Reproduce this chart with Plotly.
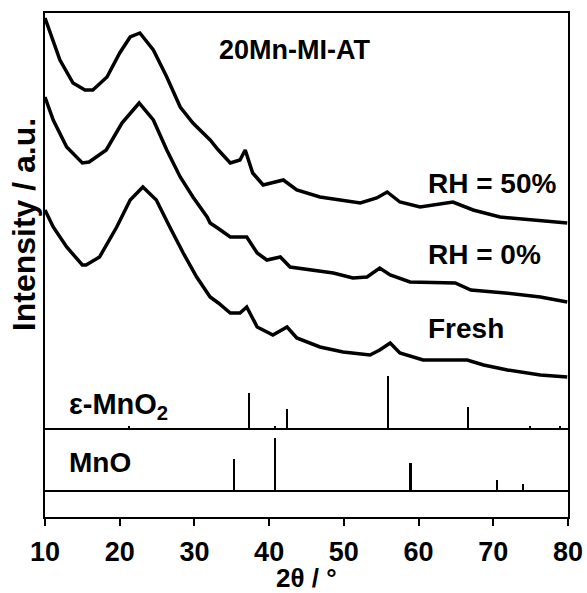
import plotly.graph_objects as go
from plotly.subplots import make_subplots

# ---- data ----
rh50_x = [10.0, 12.0, 13.75, 15.35, 16.4, 18.3, 20.0, 21.4, 22.7, 24.5, 26.3, 28.1, 29.8, 31.7, 32.1, 33.2,
          34.8, 36.1, 36.8, 37.8, 39.2, 41.9, 43.7, 46.8, 49.9, 52.2, 54.4, 55.8, 57.5, 60.2, 64.6, 67.3,
          70.9, 74.9, 79.9]
rh50_y = [410, 368, 345, 338, 338, 351, 375, 391, 395, 378, 351, 321, 305, 291, 288, 278,
          265, 268, 278, 255, 243, 248, 238, 231, 228, 225, 230, 236, 226, 221, 226, 218,
          211, 208, 205]

rh0_x = [10.0, 11.1, 12.9, 15.0, 15.9, 18.2, 20.3, 21.7, 22.6, 24.5, 26.3, 28.1, 29.8, 31.7, 32.1, 33.1,
         34.8, 37.0, 38.4, 39.7, 41.5, 42.8, 45.5, 48.6, 51.2, 53.1, 54.8, 56.2, 58.85, 64.9, 67.0,
         71.6, 76.3, 79.9]
rh0_y = [331, 308, 281, 265, 266, 278, 305, 318, 325, 308, 278, 251, 231, 211, 205, 200,
         191, 191, 175, 168, 171, 161, 158, 155, 150, 151, 160, 153, 146, 145, 138,
         135, 131, 126]

fresh_x = [10.0, 11.1, 12.9, 15.0, 15.5, 17.3, 19.6, 21.4, 23.1, 24.9, 26.7, 28.5, 30.3, 31.7, 32.1, 33.2,
           34.8, 36.1, 37.0, 38.4, 40.5, 42.4, 43.7, 46.8, 49.9, 53.5, 54.8, 56.2, 57.5, 60.6, 66.5,
           68.7, 71.9, 76.3, 79.9]
fresh_y = [218, 201, 181, 163, 163, 171, 201, 228, 241, 228, 201, 175, 151, 135, 131, 125,
           115, 115, 121, 101, 93, 101, 90, 81, 76, 73, 78, 85, 75, 68, 68,
           63, 58, 53, 51]

eps_pos = [21.3, 37.3, 40.8, 42.4, 55.9, 66.6, 74.9, 79.0]
eps_int = [2, 35, 2, 19, 52, 21, 2, 2]

mno_pos = [35.3, 40.8, 58.95, 70.5, 74.0]
mno_int = [31, 52, 27, 10, 6]

x_ticks = [10, 20, 30, 40, 50, 60, 70, 80]

FONT = "Arial, Liberation Sans, sans-serif"

fig = make_subplots(rows=3, cols=1, shared_xaxes=True, vertical_spacing=0,
                    row_heights=[415, 62, 27])

line_style = dict(color="black", width=3.5)
for xs, ys in [(rh50_x, rh50_y), (rh0_x, rh0_y), (fresh_x, fresh_y)]:
    fig.add_trace(go.Scatter(x=xs, y=ys, mode="lines", line=line_style,
                             showlegend=False, hoverinfo="skip"), row=1, col=1)

fig.add_trace(go.Bar(x=eps_pos, y=eps_int, width=0.22, marker=dict(color="black", line=dict(width=0)),
                     showlegend=False), row=1, col=1)
fig.add_trace(go.Bar(x=mno_pos, y=mno_int, width=0.22, marker=dict(color="black", line=dict(width=0)),
                     showlegend=False), row=2, col=1)
# empty bottom strip (keeps the bottom axis drawn)
fig.add_trace(go.Scatter(x=[x_ticks[0], x_ticks[-1]], y=[None, None], mode="lines",
                         showlegend=False, hoverinfo="skip"), row=3, col=1)

axis_common = dict(showline=True, linewidth=2, linecolor="black",
                   showgrid=False, zeroline=False, automargin=False)
fig.update_xaxes(range=[10, 80], showticklabels=False, ticks="", mirror=True, row=1, col=1, **axis_common)
fig.update_xaxes(range=[10, 80], showticklabels=False, ticks="", mirror=False, row=2, col=1, **axis_common)
fig.update_xaxes(range=[10, 80], mirror=False, row=3, col=1, **axis_common)
fig.update_xaxes(showticklabels=True, ticks="outside", ticklen=7, tickwidth=2, tickcolor="black",
                 tickvals=x_ticks, ticktext=["<b>%d</b>" % t for t in x_ticks],
                 tickfont=dict(family=FONT, size=27, color="black"), ticklabelstandoff=3,
                 row=3, col=1)
fig.update_yaxes(range=[0, 415], showticklabels=False, ticks="", mirror=True, row=1, col=1, **axis_common)
fig.update_yaxes(range=[0, 62], showticklabels=False, ticks="", mirror=True, row=2, col=1, **axis_common)
fig.update_yaxes(range=[0, 1], showticklabels=False, ticks="", mirror=True, row=3, col=1, **axis_common)

ann_font = dict(family=FONT, size=28, color="black")
annotations = [
    dict(text="<b>20Mn-MI-AT</b>", x=33.0, y=378, xref="x", yref="y", xanchor="left",
         yanchor="middle", showarrow=False, font=dict(family=FONT, size=27, color="black")),
    dict(text="<b>RH = 50%</b>", x=61.0, y=245, xref="x", yref="y", xanchor="left",
         yanchor="middle", showarrow=False, font=ann_font),
    dict(text="<b>RH = 0%</b>", x=61.0, y=174, xref="x", yref="y", xanchor="left",
         yanchor="middle", showarrow=False, font=ann_font),
    dict(text="<b>Fresh</b>", x=61.0, y=100, xref="x", yref="y", xanchor="left",
         yanchor="middle", showarrow=False, font=ann_font),
    dict(text="<b>ε-MnO<sub>2</sub></b>", x=12.9, y=22, xref="x", yref="y", xanchor="left",
         yanchor="middle", showarrow=False, font=dict(family=FONT, size=29, color="black")),
    dict(text="<b>MnO</b>", x=12.9, y=28, xref="x", yref="y2", xanchor="left",
         yanchor="middle", showarrow=False, font=ann_font),
    dict(text="<b>2θ / °</b>", x=0.5, y=0, xref="paper", yref="paper",
         xanchor="center", yanchor="middle", yshift=-61, showarrow=False,
         font=dict(family=FONT, size=26, color="black")),
    dict(text="<b>Intensity / a.u.</b>", x=0, y=0.579, xref="paper", yref="paper",
         xanchor="center", yanchor="middle", xshift=-21, textangle=-90, showarrow=False,
         font=dict(family=FONT, size=32, color="black")),
]
fig.update_layout(
    width=587, height=593,
    margin=dict(l=45, r=19, t=13, b=76),
    paper_bgcolor="white", plot_bgcolor="white",
    annotations=annotations,
    bargap=0,
)

fig.write_html("out.html")
